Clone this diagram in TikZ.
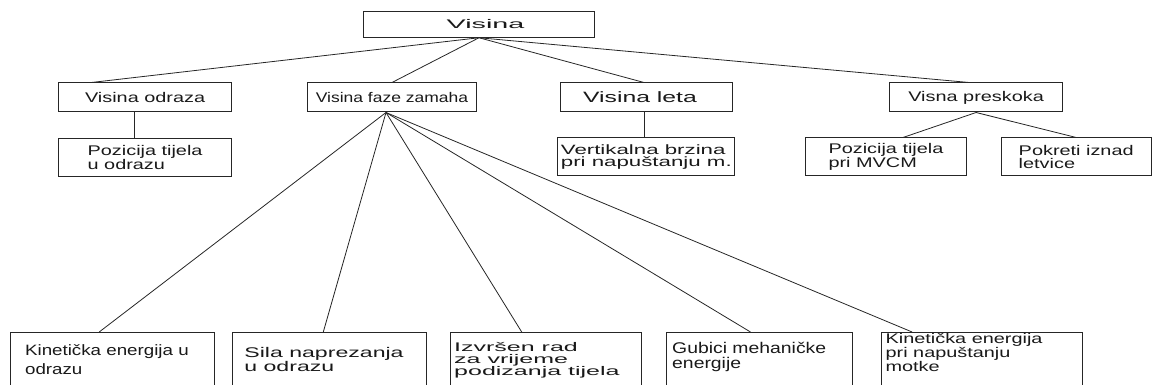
\documentclass[tikz,border=0pt]{standalone}
\usepackage{fontspec}
\setmainfont{Liberation Sans}
\newfontfamily\fa[FakeStretch=1.25]{Liberation Sans}
\newfontfamily\fb[FakeStretch=1.42]{Liberation Sans}
\newfontfamily\fc[FakeStretch=1.65]{Liberation Sans}
\newfontfamily\fd[FakeStretch=2.0]{Liberation Sans}
\newcommand\wtxt{\fontsize{14}{12.5}\fb}

\begin{document}
\begin{tikzpicture}[x=1pt,y=-1pt,
    box/.style={draw=black!85,line width=1pt,inner sep=0pt,text=black!90},
    lvl/.style={box,minimum height=29pt},
    sub/.style={box,minimum height=38pt,align=left},
    low/.style={box,anchor=north west,minimum height=70pt},
    lbl/.style={inner sep=0pt,anchor=north west,align=left,text=black!90},
    link/.style={black!85,line width=0.8pt}]
\useasboundingbox (0,0) rectangle (1152,385);
\clip (0,0) rectangle (1152,385);

\node[box,minimum width=231pt,minimum height=25.5pt,font=\fontsize{12.5}{12.5}\selectfont] (vis) at (479,24.5) {\hspace*{13pt}\scalebox{2.3}[1]{Visina}};

\node[lvl,minimum width=172.6pt,font=\wtxt] (odr) at (145.1,97.5) {Visina odraza};
\node[lvl,minimum width=169pt,font=\fontsize{14}{14}\fa] (zam) at (392,97.5) {Visina faze zamaha};
\node[lvl,minimum width=172pt,font=\fontsize{15}{15}\fc] (let) at (646,97.5) {\hspace*{-12pt}Visina leta};
\node[lvl,minimum width=173.4pt,font=\wtxt] (pre) at (976.1,97.5) {Visna preskoka};

\node[sub,minimum width=172.6pt,font=\wtxt] (pod) at (145.1,157.5) {Pozicija tijela\\u odrazu};
\node[sub,minimum width=176.7pt,font=\fontsize{13.5}{12}\fc] (brz) at (646.3,157) {Vertikalna brzina\\pri napuštanju m.};
\node[sub,minimum width=161pt,font=\wtxt] (mvc) at (886,157) {Pozicija tijela\\pri MVCM};
\node[sub,minimum width=149.6pt,font=\wtxt] (pok) at (1076.2,157) {Pokreti iznad\\letvice};

\node[low,minimum width=204.3pt,
    label={[lbl,xshift=15pt,yshift=-12.7pt,font=\fontsize{15}{18.6}\fa]north west:{Kinetička energija u\\odrazu}}]
    (ke) at (9.9,332) {};
\node[low,minimum width=194pt,
    label={[lbl,xshift=12pt,yshift=-14.7pt,font=\fontsize{14}{12.3}\fc]north west:{Sila naprezanja\\u odrazu}}]
    (si) at (232.2,332) {};
\node[low,minimum width=191.4pt,
    label={[lbl,xshift=4pt,yshift=-9.8pt,font=\fontsize{12.5}{12}\fd]north west:{Izvršen rad\\za vrijeme\\podizanja tijela}}]
    (iz) at (450,332) {};
\node[low,minimum width=186.3pt,
    label={[lbl,xshift=6pt,yshift=-10.3pt,font=\fontsize{15.5}{14.3}\fa]north west:{Gubici mehaničke\\energije}}]
    (gu) at (666,332) {};
\node[low,minimum width=201.3pt,
    label={[lbl,xshift=4.5pt,yshift=-1.1pt,font=\wtxt]north west:{Kinetička energija\\pri napuštanju\\motke}}]
    (kp) at (880.9,332) {};

\draw [link] (vis.south) -- ([xshift=33pt]odr.north west);
\draw [link] (vis.south) -- (zam.north);
\draw [link] (vis.south) -- ([xshift=-2pt]let.north);
\draw [link] (vis.south) -- ([xshift=-7pt]pre.north);
\draw [link] ([xshift=-11pt]odr.south) -- ([xshift=-11pt]pod.north);
\draw [link] ([xshift=-2pt]let.south) -- ([xshift=-2pt]let.south |- brz.north);
\draw [link] (pre.south) -- ([xshift=17pt]mvc.north);
\draw [link] (pre.south) -- (pok.north);
\foreach \n/\s in {ke/89.3,si/91.1,iz/71.7,gu/84.5,kp/31.2}
    \draw [link] ([xshift=-6pt]zam.south) -- ([xshift=\s pt]\n.north west);
\end{tikzpicture}
\end{document}
